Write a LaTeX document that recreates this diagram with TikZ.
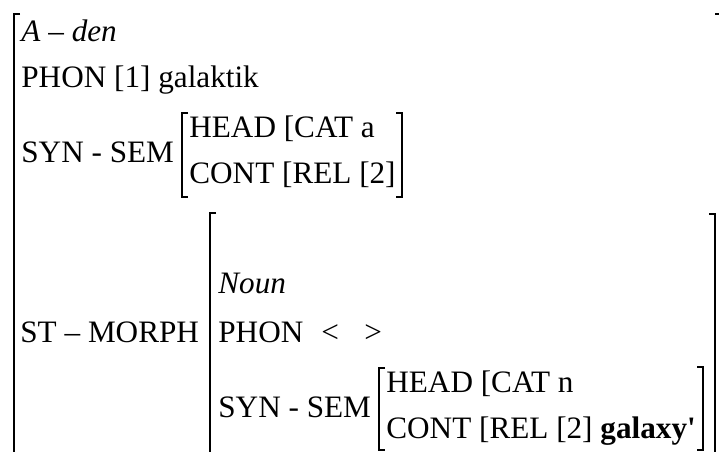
\documentclass[tikz,border=0pt]{standalone}
\usepackage{fontspec}
\setmainfont{Liberation Serif}

\begin{document}
\begin{tikzpicture}[x=0.5pt,y=-0.5pt,
  font=\fontsize{15.6}{18}\selectfont,
  avm/.style={anchor=base west,inner sep=0pt},
  brk/.style={line width=1pt}]
\useasboundingbox (0,0) rectangle (719,451);
% left brackets
\foreach \x/\t/\b in {14/14/470, 182/113/197, 210/213/470, 379/368/450}{
\draw[brk] (\x+6,\t)--(\x,\t)--(\x,\b)--(\x+6,\b);
}
% right brackets
\foreach \x/\t/\b in {721/14/470, 402/113/197, 715/214/470, 703/367/450}{
\draw[brk] (\x-6,\t)--(\x,\t)--(\x,\b)--(\x-6,\b);
}
% outer avm
\node[avm] (type) at (21,41) {\textit{A} -- \textit{den}};
\node[avm] (phon) at (21,87) {PHON [1] galaktik};
\node[avm] (synsem) at (21,162) {SYN - SEM};
\node[avm] (head) at (189,137) {HEAD [CAT a};
\node[avm] (cont) at (189,183) {CONT [REL [2]};
\node[avm] (stmorph) at (20,342) {ST -- MORPH};
% st-morph value
\node[avm] (noun) at (218,293) {\textit{Noun}};
\node[avm] (nphon) at (218,342) {PHON};
\node[avm] (lt) at (321,342) {<};
\node[avm] (gt) at (364,342) {>};
\node[avm] (nsynsem) at (218,417) {SYN - SEM};
\node[avm] (nhead) at (386,392) {HEAD [CAT n};
\node[avm] (ncont) at (386,438) {CONT [REL [2] \textbf{galaxy\textquotesingle}};
\end{tikzpicture}
\end{document}
